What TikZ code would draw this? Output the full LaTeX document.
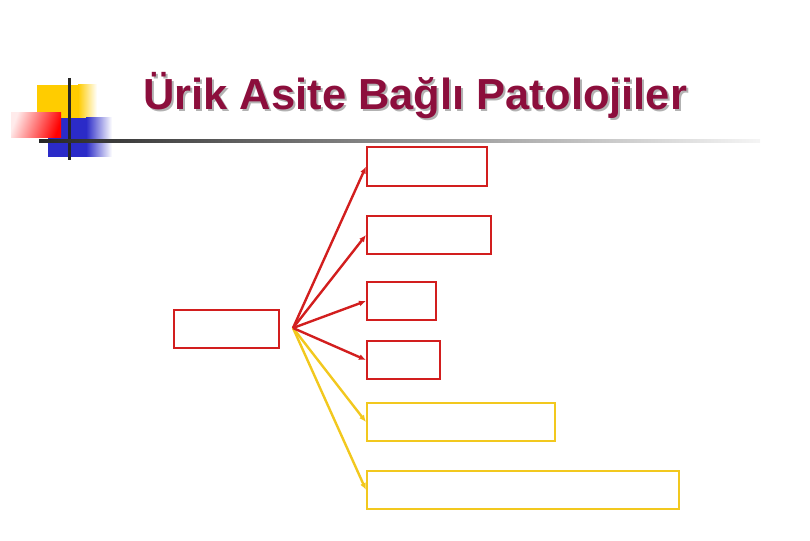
\documentclass[tikz,border=0pt]{standalone}
\usepackage{xcolor}
\usepackage{fontspec}
\usepackage{tikz}
\usetikzlibrary{arrows.meta}
\newfontfamily\titlefont{Liberation Sans}
\definecolor{titlered}{HTML}{8C0E3C}
\definecolor{boxred}{HTML}{D21E1E}
\definecolor{boxyellow}{HTML}{F2C81E}
\definecolor{logoyellow}{HTML}{FFCC00}
\definecolor{logoblue}{HTML}{2B2BC8}
\newcommand{\shadowtext}[1]{\rlap{\hspace{2pt}\raisebox{-2pt}{\textcolor{black!30}{#1}}}\textcolor{titlered}{#1}}
\tikzset{
  redbox/.style={draw=boxred, line width=2pt, inner sep=0pt, minimum height=38pt},
  yellowbox/.style={draw=boxyellow, line width=2pt, inner sep=0pt, minimum height=38pt},
  redarrow/.style={draw=boxred, line width=2.4pt, -{Latex[length=7pt,width=6pt]}},
  yellowarrow/.style={draw=boxyellow, line width=2.4pt, -{Latex[length=7pt,width=6pt]}}
}
\begin{document}
\begin{tikzpicture}[x=1pt,y=-1pt]
      \useasboundingbox (0,0) rectangle (810,540);
      % Logo
      \fill[logoyellow] (37,85) rectangle (78,120);
      \shade[left color=logoyellow, right color=white] (78,85) rectangle (97,120);
      \fill[logoblue] (48,118) rectangle (86,157);
      \shade[left color=logoblue, right color=white] (86,118) rectangle (112,157);
      \shade[left color=red!8, right color=red, shading angle=70] (11,113) rectangle (61,138);
      \draw[black!85, line width=3pt] (69,78) -- (69,160);
      \shade[left color=black!85, right color=black!4] (39,139.5) rectangle (760,142.5);
  
      % Title
      \node[anchor=base west, inner sep=0pt, font=\titlefont\bfseries\fontsize{43.5}{50}\selectfont] (title) at (143,110) {\shadowtext{Ürik Asite Bağlı Patolojiler}};
  
      % Boxes
      \node[redbox, minimum width=105pt] (source) at (226.5,329) {};
      \node[redbox, minimum width=120pt] (path1) at (427,166.5) {};
      \node[redbox, minimum width=124pt] (path2) at (429,235) {};
      \node[redbox, minimum width=69pt] (path3) at (401.5,301) {};
      \node[redbox, minimum width=73pt] (path4) at (403.5,360) {};
      \node[yellowbox, minimum width=188pt] (path5) at (461,422) {};
      \node[yellowbox, minimum width=312pt] (path6) at (523,490) {};
  
      % Arrows
      \coordinate (fan) at (293,328);
      \draw[yellowarrow] (fan) -- (path5.west);
      \draw[yellowarrow] (fan) -- (path6.west);
      \draw[redarrow] (fan) -- (path1.west);
      \draw[redarrow] (fan) -- (path2.west);
      \draw[redarrow] (fan) -- (path3.west);
      \draw[redarrow] (fan) -- (path4.west);
    \end{tikzpicture}
\end{document}
